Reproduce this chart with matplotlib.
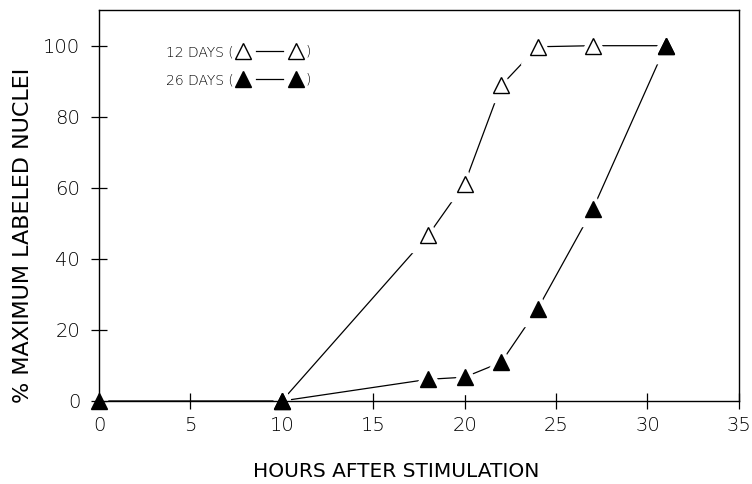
import matplotlib
matplotlib.use("Agg")
import matplotlib.pyplot as plt
from matplotlib.legend_handler import HandlerLine2D
from matplotlib.lines import Line2D
from matplotlib.text import Text

hours_12 = [10, 18, 20, 22, 24, 27, 31]
pct_12 = [0, 46.6, 61.2, 88.8, 99.7, 100, 100]

hours_26 = [0, 10, 18, 20, 22, 24, 27, 31]
pct_26 = [0, 0, 6.1, 6.7, 10.9, 26.0, 53.9, 100]

x_ticks = [0, 5, 10, 15, 20, 25, 30, 35]
y_ticks = [0, 20, 40, 60, 80, 100]

plt.rcParams["font.family"] = ["DejaVu Sans"]
plt.rcParams["font.weight"] = "light"


class HandlerParen(HandlerLine2D):
    # two markers with a short dash between them, then ")"
    def create_artists(self, legend, orig_handle, xdescent, ydescent,
                       width, height, fontsize, trans):
        xd, _ = self.get_xdata(legend, xdescent, ydescent, width, height, fontsize)
        y = (height - ydescent) / 2
        mid = (xd[0] + xd[-1]) / 2
        half = 0.26 * (xd[-1] - xd[0])
        dash = Line2D([mid - half, mid + half], [y, y])
        self.update_prop(dash, orig_handle, legend)
        dash.set_marker("None")
        marks = Line2D(xd, [y] * len(xd))
        self.update_prop(marks, orig_handle, legend)
        marks.set_linestyle("None")
        t = Text(width + 0.35 * fontsize, y, ")",
                 ha="left", va="center", fontsize=fontsize)
        for a in (dash, marks, t):
            a.set_transform(trans)
        return [dash, marks, t]


fig = plt.figure(figsize=(7.52, 4.84), dpi=100)
ax = fig.add_axes([0.1316, 0.1715, 0.851, 0.8075])

ms = 12
for hx, py in [(hours_12, pct_12), (hours_26, pct_26)]:
    ax.plot(hx, py, "-", color="black", lw=0.9, zorder=2)
    # white halo so the lines stop short of the markers
    ax.plot(hx, py, "^", ms=ms + 12, mfc="white", mec="white", zorder=3)
for hx, py, face in [(hours_12, pct_12, "white"), (hours_26, pct_26, "black")]:
    ax.plot(hx, py, "^", ms=ms, mfc=face, mec="black", mew=1.0, zorder=4, clip_on=False)

ax.set_xlim(0, 35)
ax.set_ylim(0, 110)
ax.set_xticks(x_ticks)
ax.set_yticks(y_ticks)
ax.tick_params(direction="inout", length=11, width=0.9, labelsize=14, pad=8)
ax.tick_params(axis="x", pad=5)
for s in ax.spines.values():
    s.set_linewidth(1.0)
    s.set_zorder(5)

ax.set_xlabel("HOURS AFTER STIMULATION", fontsize=14.5)
ax.xaxis.set_label_coords(0.464, -0.155)
ax.set_ylabel("% MAXIMUM LABELED NUCLEI", fontsize=16)
ax.yaxis.set_label_coords(-0.103, 0.425)

h12 = Line2D([], [], color="black", lw=0.9, marker="^", ms=ms, mfc="white", mec="black")
h26 = Line2D([], [], color="black", lw=0.9, marker="^", ms=ms, mfc="black", mec="black")
ax.legend([h12, h26], ["12 DAYS (", "26 DAYS ("], loc="upper left",
          bbox_to_anchor=(0.085, 0.942), frameon=False, markerfirst=False,
          numpoints=2, handlelength=4.4, fontsize=10, labelspacing=1.0,
          handletextpad=0.4, handler_map={Line2D: HandlerParen()})

fig.savefig("out.png", dpi=100)
